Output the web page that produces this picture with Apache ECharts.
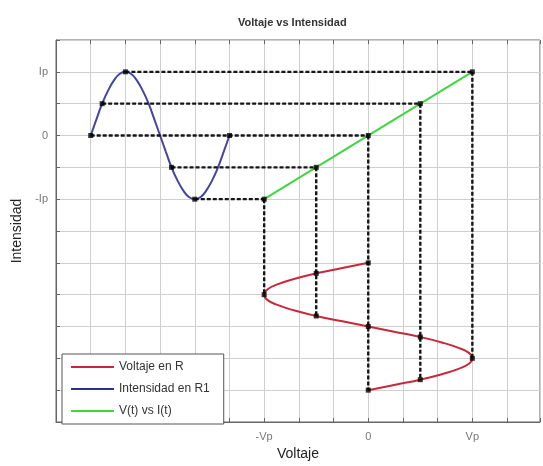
<!DOCTYPE html>
<html>
<head>
<meta charset="utf-8">
<script src="https://cdn.jsdelivr.net/npm/echarts@6/dist/echarts.min.js"></script>
<style>
html,body{margin:0;padding:0;background:#fff;}
#chart{width:543px;height:466px;}
</style>
</head>
<body>
<div id="chart"></div>
<script>
// ---- Data ----
const chartTitle = 'Voltaje vs Intensidad';
const xName = 'Voltaje';
const yName = 'Intensidad';
const xTickLabels = {'-3': '-Vp', '0': '0', '3': 'Vp'};
const yTickLabels = {'2': 'Ip', '0': '0', '-2': '-Ip'};
const seriesNames = ['Voltaje en R', 'Intensidad en R1', 'V(t) vs I(t)'];

// Intensidad en R1 (time along x, upper-left)
const blueT = [-8, -7.83, -7.67, -7.5, -7.33, -7.17, -7, -6.83, -6.67, -6.5, -6.33, -6.17, -6,
               -5.83, -5.67, -5.5, -5.33, -5.17, -5, -4.83, -4.67, -4.5, -4.33, -4.17, -4];
const blueI = [0, 0.52, 1, 1.41, 1.73, 1.93, 2, 1.93, 1.73, 1.41, 1, 0.52, 0,
               -0.52, -1, -1.41, -1.73, -1.93, -2, -1.93, -1.73, -1.41, -1, -0.52, 0];

// Voltaje en R (time along y, downward)
const redV = [0, -0.78, -1.5, -2.12, -2.6, -2.9, -3, -2.9, -2.6, -2.12, -1.5, -0.78, 0,
              0.78, 1.5, 2.12, 2.6, 2.9, 3, 2.9, 2.6, 2.12, 1.5, 0.78, 0];
const redT = [-4, -4.17, -4.33, -4.5, -4.67, -4.83, -5, -5.17, -5.33, -5.5, -5.67, -5.83, -6,
              -6.17, -6.33, -6.5, -6.67, -6.83, -7, -7.17, -7.33, -7.5, -7.67, -7.83, -8];

// V(t) vs I(t)
const greenV = [-3, 3];
const greenI = [-2, 2];

// Projection guides
const projLevel  = [2, 1, 0, -1, -2];
const projSineX  = [-7, -7.67, -8, -5.67, -5];
const projLineX  = [3, 1.5, 0, -1.5, -3];
const projBottom = [-7, -7.67, -8, -5.67, -5];

// Marker points
const markerX = [-8, -7.67, -7, -5.67, -5, -4,
                 3, 1.5, 0, -1.5, -3,
                 0, -1.5, -3, -1.5, 0, 1.5, 3, 1.5, 0];
const markerY = [0, 1, 2, -1, -2, 0,
                 2, 1, 0, -1, -2,
                 -4, -4.33, -5, -5.67, -6, -6.33, -7, -7.67, -8];

// ---- Build chart ----
const zip = (a, b) => a.map((v, i) => [v, b[i]]);
const dashStyle = {color: '#151515', width: 2.4, type: [4, 2]};
const FONT = 'Liberation Sans, Arial, sans-serif';

const series = [
  {name: seriesNames[0], type: 'line', data: zip(redV, redT), symbol: 'none', smooth: true,
   lineStyle: {color: '#c8283a', width: 2}, itemStyle: {color: '#c8283a'}, z: 3},
  {name: seriesNames[1], type: 'line', data: zip(blueT, blueI), symbol: 'none', smooth: true,
   lineStyle: {color: '#4444a4', width: 2}, itemStyle: {color: '#2e2e90'}, z: 3},
  {name: seriesNames[2], type: 'line', data: zip(greenV, greenI), symbol: 'none',
   lineStyle: {color: '#3fd63f', width: 2}, itemStyle: {color: '#3fd63f'}, z: 3}
];
projLevel.forEach((lv, i) => {
  series.push({type: 'line', name: 'h' + i, symbol: 'none', silent: true, z: 4,
    data: [[projSineX[i], lv], [projLineX[i], lv]], lineStyle: dashStyle});
  series.push({type: 'line', name: 'v' + i, symbol: 'none', silent: true, z: 4,
    data: [[projLineX[i], lv], [projLineX[i], projBottom[i]]], lineStyle: dashStyle});
});
series.push({type: 'scatter', name: 'pts', symbol: 'rect', symbolSize: 5, z: 5,
  data: zip(markerX, markerY), itemStyle: {color: '#000'}});

const chart = echarts.init(document.getElementById('chart'), null, {renderer: 'canvas'});
chart.setOption({
  animation: false,
  backgroundColor: '#fff',
  grid: {left: 56, right: 0, top: 40, bottom: 42, show: true, borderColor: '#666', borderWidth: 1, backgroundColor: 'transparent'},
  xAxis: [{
    type: 'value', min: -9, max: 4.95, interval: 1,
    name: xName, nameLocation: 'middle', nameGap: 25,
    nameTextStyle: {fontFamily: FONT, fontSize: 14, color: '#222'},
    axisLine: {show: true, onZero: false, lineStyle: {color: '#666'}},
    axisTick: {show: true, inside: true, length: 4, lineStyle: {color: '#666'}},
    axisLabel: {margin: 9, color: '#777', fontSize: 11, fontFamily: FONT,
      formatter: v => xTickLabels[String(v)] || ''},
    splitLine: {show: true, lineStyle: {color: '#cfcfcf', width: 1}}
  }, {
    type: 'value', min: -9, max: 4.95, interval: 1, position: 'top',
    axisLine: {show: false, onZero: false}, axisTick: {show: true, inside: true, length: 4, lineStyle: {color: '#666'}},
    axisLabel: {show: false}, splitLine: {show: false}
  }],
  yAxis: {
    type: 'value', min: -9, max: 3, interval: 1,
    name: yName, nameLocation: 'middle', nameGap: 29,
    nameTextStyle: {fontFamily: FONT, fontSize: 14, color: '#222'},
    axisLine: {show: true, onZero: false, lineStyle: {color: '#666'}},
    axisTick: {show: true, inside: true, length: 4, lineStyle: {color: '#666'}},
    axisLabel: {margin: 8, color: '#777', fontSize: 11, fontFamily: FONT,
      formatter: v => yTickLabels[String(v)] || ''},
    splitLine: {show: true, lineStyle: {color: '#cfcfcf', width: 1}}
  },
  legend: {
    data: seriesNames, orient: 'vertical', left: 62, top: 354,
    itemWidth: 43, itemHeight: 10, itemGap: 10,
    padding: [7, 14, 7, 9],
    backgroundColor: '#fff', borderColor: '#555', borderWidth: 1,
    textStyle: {fontFamily: FONT, fontSize: 12, color: '#333'},
    icon: 'path://M0,4L43,4L43,6L0,6Z'
  },
  graphic: [{
    type: 'text', left: 300 - 62, top: 17,
    style: {text: chartTitle, font: 'bold 11px "Liberation Sans", Arial, sans-serif', fill: '#333'}
  }],
  series: series
});
</script>
</body>
</html>
